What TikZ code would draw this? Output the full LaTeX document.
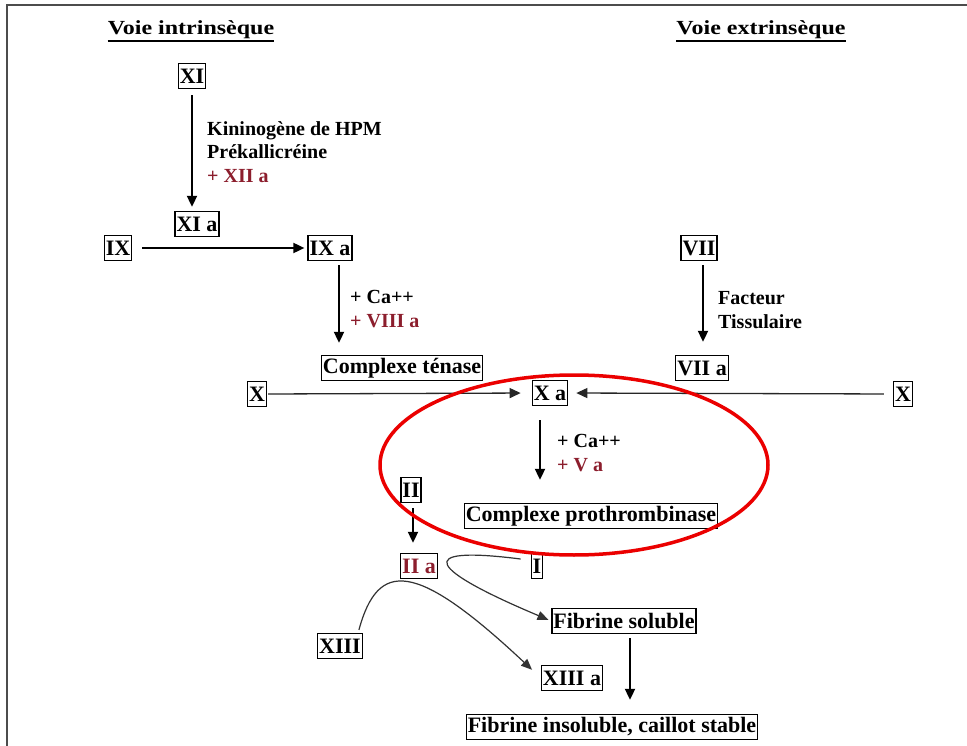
\documentclass[tikz,border=0pt]{standalone}
\usepackage{fontspec}
\setmainfont{Liberation Serif}
\usetikzlibrary{arrows.meta,calc}
\definecolor{myred}{RGB}{140,30,45}
\definecolor{ellred}{RGB}{235,0,0}
\begin{document}
\begin{tikzpicture}[x=1pt,y=-1pt,
 box/.style={draw,line width=1.3pt,inner xsep=1.5pt,inner ysep=0pt,minimum height=25pt,font=\fontsize{22}{24}\selectfont\bfseries},
 lbl/.style={align=left,inner sep=0pt,font=\fontsize{20}{23.5}\selectfont\bfseries},
 ttl/.style={inner sep=0pt,font=\fontsize{20}{24}\selectfont\bfseries},
 arr/.style={line width=1.8pt,-{Triangle[length=11pt,width=10pt]}},
 thinarr/.style={line width=1.3pt,draw=black!85,-{Triangle[length=11pt,width=10pt]}},
 curv/.style={line width=1.2pt,draw=black!80,-{Triangle[length=11pt,width=9pt]}},
]
\useasboundingbox (0,0) rectangle (967,746);
\fill[white] (0,0) rectangle (967,746);
\draw[gray!60!black,line width=2pt] (7,746) -- (7,5) -- (967,5);

% titles
\node[ttl] (t1) at (191,30) {\scalebox{1.2}[1]{Voie intrinsèque}};
\node[ttl] (t2) at (761,30) {\scalebox{1.2}[1]{Voie extrinsèque}};
\draw[line width=2.2pt] ($(t1.west)+(0,11)$) -- ($(t1.east)+(0,11)$);
\draw[line width=2.2pt] ($(t2.west)+(0,11)$) -- ($(t2.east)+(0,11)$);

% boxes
\node[box] (XI) at (192,76) {XI};
\node[box] (XIa) at (197,224) {XI a};
\node[box] (IX) at (118,248) {IX};
\node[box] (IXa) at (330,248) {IX a};
\node[box] (ten) at (402,368) {Complexe ténase};
\node[box] (Xl) at (257,394) {X};
\node[box] (Xa) at (550,393) {X a};
\node[box] (Xr) at (903,394) {X};
\node[box] (VII) at (699,248) {VII};
\node[box] (VIIa) at (702,368) {VII a};
\node[box] (pro) at (591,516) {Complexe prothrombinase};
\node[box] (II) at (411,490) {II};
\node[box,text=myred] (IIa) at (419,566) {II a};
\node[box] (I) at (537,566) {I};
\node[box] (FS) at (624,621) {Fibrine soluble};
\node[box] (XIII) at (340,646) {XIII};
\node[box] (XIIIa) at (572,678) {XIII a};
\node[box] (FI) at (612,727) {Fibrine insoluble, caillot stable};

% labels
\node[lbl,anchor=west] (k) at (207,152) {Kininogène de HPM\\Prékallicréine\\\textcolor{myred}{+ XII a}};
\node[lbl,anchor=west] (c1) at (350,309) {+ Ca++\\\textcolor{myred}{+ VIII a}};
\node[lbl,anchor=west] (f) at (718,310) {Facteur\\Tissulaire};
\node[lbl,anchor=west] (c2) at (557,453) {+ Ca++\\\textcolor{myred}{+ V a}};

% arrows
\coordinate (a1) at ($(IXa.south)+(9,0)$);
\coordinate (a2) at ($(VII.south)+(4,0)$);
\coordinate (a3) at ($(Xa.south)+(-10,0)$);
\coordinate (a4) at ($(II.south)+(2,0)$);
\coordinate (a5) at ($(FS.south)+(6,0)$);
\draw[arr,shorten <=6pt,shorten >=4pt] (XI.south) -- (XI.south |- XIa.north);
\draw[arr,shorten <=10pt,shorten >=3pt] (IX.east) -- (IXa.west);
\draw[arr,shorten <=4pt,shorten >=12pt] (a1) -- (a1 |- ten.north);
\draw[arr,shorten <=4pt,shorten >=13pt] (a2) -- (a2 |- VIIa.north);
\draw[thinarr,shorten <=1pt,shorten >=11pt] (Xl.east) -- (Xa.west);
\draw[thinarr,shorten <=9pt,shorten >=8pt] (Xr.west) -- (Xa.east);
\draw[arr,shorten <=14pt,shorten >=23pt] (a3) -- (a3 |- pro.north);
\draw[arr,shorten <=5pt,shorten >=10pt] (a4) -- (a4 |- IIa.north);
\draw[arr,shorten <=4pt,shorten >=14pt] (a5) -- (a5 |- FI.north);

% curves
\draw[curv,shorten >=3pt] ($(I.west)+(-10,-7)$) .. controls (410,545) and (430,570) .. (FS.west);
\draw[curv,shorten >=12pt] ($(XIII.north east)+(-4,-3)$) .. controls (378,560) and (415,560) .. (XIIIa.west);

% red ellipse
\draw[ellred,line width=3.5pt] (574,465) ellipse [x radius=194, y radius=90];
\end{tikzpicture}
\end{document}
